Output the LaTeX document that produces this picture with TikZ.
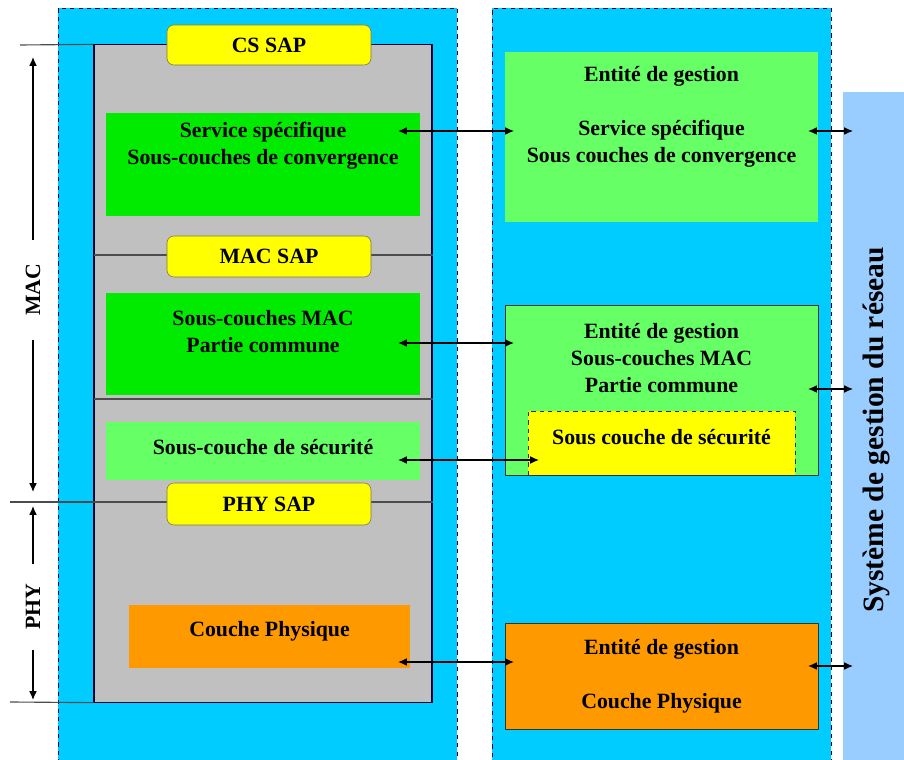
\documentclass[tikz,border=0pt]{standalone}
\usepackage{fontspec}
\setmainfont{Liberation Serif}
\usetikzlibrary{arrows.meta, positioning, calc}
\definecolor{panelblue}{RGB}{0,204,255}
\definecolor{mgmtblue}{RGB}{153,204,255}
\definecolor{layergray}{RGB}{192,192,192}
\definecolor{macgreen}{RGB}{0,235,0}
\definecolor{lightgreen}{RGB}{102,255,102}
\definecolor{sapyellow}{RGB}{255,255,0}
\definecolor{phyorange}{RGB}{255,153,0}
\tikzset{
    panel/.style={
        rectangle,
        draw=black!75!blue,
        dashed,
        fill=panelblue,
        inner sep=0pt
    },
    layerbox/.style={
        rectangle,
        inner sep=0pt
    },
    sap/.style={
        rectangle,
        rounded corners=5pt,
        draw=black!60!yellow,
        fill=sapyellow,
        minimum width=5.1cm,
        inner sep=0pt,
        font=\fontsize{15.5}{19.2}\selectfont\bfseries
    },
    txt/.style={
        align=center,
        inner sep=0pt,
        font=\fontsize{15.5}{19.2}\selectfont\bfseries
    },
    sepline/.style={
        draw=black!70,
        thick
    },
    dblarrow/.style={
        {Latex[length=2.2mm,width=1.9mm]}-{Latex[length=2.2mm,width=1.9mm]},
        thick
    },
    axis/.style={
        {Latex[length=2.2mm,width=1.9mm]}-{Latex[length=2.2mm,width=1.9mm]},
        thick
    }
}

\begin{document}
\begin{tikzpicture}[x=0.025cm, y=-0.025cm]
    \useasboundingbox (0,0) rectangle (904,760);

    % Panels
    \node[panel, minimum width=9.975cm, minimum height=19.05cm] (left) at (257.5,389) {};
    \node[panel, minimum width=8.475cm, minimum height=19.05cm] (right) at (661.5,389) {};
    \node[layerbox, fill=mgmtblue, minimum width=1.675cm, minimum height=16.95cm] (mgmt) at (876.5,431) {};
    \node[rotate=90, inner sep=0pt, font=\fontsize{21}{25}\selectfont\bfseries] (mgmttxt) at (876,430) {Système de gestion du réseau};

    % MAC + PHY stack
    \node[layerbox, draw=black!80!blue, thick, fill=layergray, minimum width=8.45cm, minimum height=16.425cm] (stack) at (263,373.5) {};
    \coordinate (c45) at (20,45);
    \coordinate (c255) at (94,255);
    \coordinate (c399) at (94,399);
    \coordinate (c502) at (10,502);
    \coordinate (c702) at (10,702);
    \draw[sepline] (c45) -- (stack.north west);
    \draw[sepline] (c255) -- (c255 -| stack.east);
    \draw[sepline] (c399) -- (c399 -| stack.east);
    \draw[sepline] (c502) -- (c502 -| stack.east);
    \draw[sepline] (c702) -- (stack.south west);

    % SAPs
    \node[sap, minimum height=1cm] (cssap) at (269,45) {CS SAP};
    \node[sap, minimum height=1.025cm] (macsap) at (269,256.5) {MAC SAP};
    \node[sap, minimum height=1.05cm] (physap) at (269,504) {PHY SAP};

    % Layers
    \node[layerbox, fill=macgreen, minimum width=7.85cm, minimum height=2.575cm] (svc) at (263,164.5) {};
    \node[txt] (svctxt) at (263,146) {Service spécifique\\Sous-couches de convergence};
    \node[layerbox, fill=macgreen, minimum width=7.85cm, minimum height=2.55cm] (mac) at (263,344) {};
    \node[txt] (mactxt) at (263,332) {Sous-couches MAC\\Partie commune};
    \node[layerbox, fill=lightgreen, minimum width=7.85cm, minimum height=1.45cm] (sec) at (263,451) {};
    \node[txt] (sectxt) at (263,447) {Sous-couche de sécurité};
    \node[layerbox, fill=phyorange, minimum width=7.025cm, minimum height=1.575cm] (phy) at (269.5,636.5) {};
    \node[txt] (phytxt) at (269.5,631) {Couche Physique};

    % Management entities
    \node[layerbox, fill=lightgreen, minimum width=7.825cm, minimum height=4.25cm] (msvc) at (661.5,137) {};
    \node[txt] (msvctxt) at (661.5,117) {Entité de gestion\\[19.2pt]Service spécifique\\Sous couches de convergence};
    \node[layerbox, draw=black!80, fill=lightgreen, minimum width=7.825cm, minimum height=4.25cm] (mmac) at (661.5,390) {};
    \node[txt] (mmactxt) at (661.5,358) {Entité de gestion\\Sous-couches MAC\\Partie commune};
    \node[layerbox, draw=black!80, dashed, fill=sapyellow, minimum width=6.675cm, minimum height=1.6cm] (msec) at (661.5,443) {};
    \node[txt] (msectxt) at (661.5,437) {Sous couche de sécurité};
    \node[layerbox, draw=black!80, fill=phyorange, minimum width=7.825cm, minimum height=2.65cm] (mphy) at (661.5,676) {};
    \node[txt] (mphytxt) at (661.5,676) {Entité de gestion\\[19.2pt]Couche Physique};

    % Arrow ends
    \coordinate (svcR) at (398,131);
    \coordinate (msvcL) at (514,131);
    \coordinate (macR) at (398,343);
    \coordinate (mmacL) at (514,343);
    \coordinate (secR) at (398,460);
    \coordinate (msecL) at (539,460);
    \coordinate (phyR) at (398,662);
    \coordinate (mphyL) at (514,662);
    \coordinate (msvcR) at (808,131);
    \coordinate (mgmt1) at (853,131);
    \coordinate (mmacR) at (808,389);
    \coordinate (mgmt2) at (853,389);
    \coordinate (mphyR) at (808,666);
    \coordinate (mgmt3) at (853,666);

    % Arrows
    \draw[dblarrow] (svcR) -- (msvcL);
    \draw[dblarrow] (macR) -- (mmacL);
    \draw[dblarrow] (secR) -- (msecL);
    \draw[dblarrow] (phyR) -- (mphyL);
    \draw[dblarrow] (msvcR) -- (mgmt1);
    \draw[dblarrow] (mmacR) -- (mgmt2);
    \draw[dblarrow] (mphyR) -- (mgmt3);

    % Layer extents
    \coordinate (macTop) at (33,57);
    \coordinate (macBot) at (33,492);
    \coordinate (phyTop) at (33,506);
    \coordinate (phyBot) at (33,700);
    \draw[axis] (macTop) -- node[pos=0.535, rotate=90, fill=white, inner xsep=0.6cm, inner ysep=2pt, font=\fontsize{15.5}{19.2}\selectfont\bfseries] (maclbl) {MAC} (macBot);
    \draw[axis] (phyTop) -- node[pos=0.52, rotate=90, fill=white, inner xsep=0.5cm, inner ysep=2pt, font=\fontsize{15.5}{19.2}\selectfont\bfseries] (phylbl) {PHY} (phyBot);

\end{tikzpicture}
\end{document}
